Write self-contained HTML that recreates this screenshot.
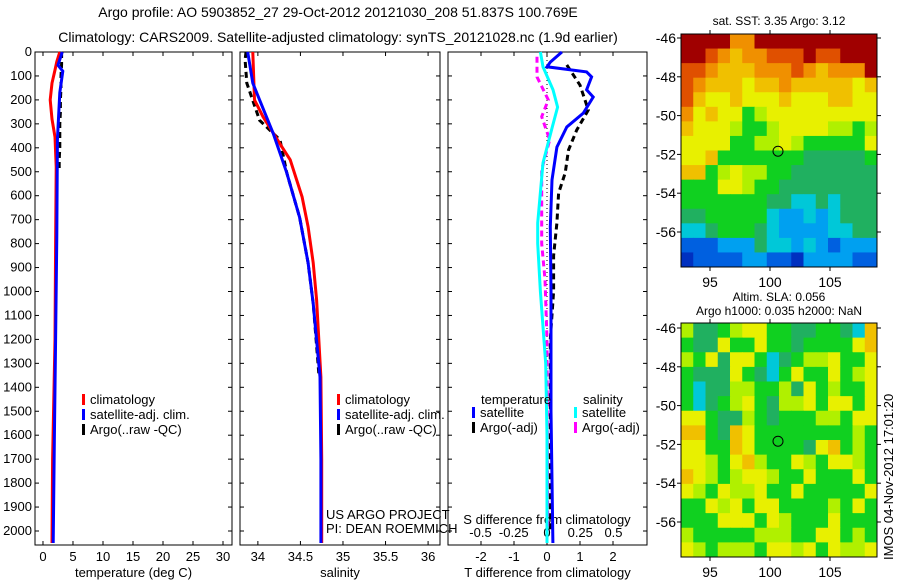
<!DOCTYPE html>
<html><head><meta charset="utf-8"><style>
body{margin:0;background:#fff}
svg{display:block;font-family:"Liberation Sans",sans-serif;font-size:13px}
</style></head><body>
<svg id="c" width="900" height="580" viewBox="0 0 900 580">
<text x="338" y="17" text-anchor="middle" font-size="14">Argo profile: AO 5903852_27 29-Oct-2012 20121030_208 51.837S 100.769E</text>
<text x="338" y="42" text-anchor="middle" font-size="14">Climatology: CARS2009. Satellite-adjusted climatology: synTS_20121028.nc (1.9d earlier)</text>
<g id="p1"></g>
<g id="p2"></g>
<g id="p3"></g>
<g id="m1"></g>
<g id="m2"></g>
<text x="0" y="0" transform="translate(893,560) rotate(-90)">IMOS 04-Nov-2012 17:01:20</text>
</svg>
<script>
// ---- data ----
const depthTicks=[0,100,200,300,400,500,600,700,800,900,1000,1100,1200,1300,1400,1500,1600,1700,1800,1900,2000];
const tTicks=[0,5,10,15,20,25,30];
const sTicks=[34,34.5,35,35.5,36];
const dTTicks=[-2,-1,0,1,2];
const dSTicks=[-0.5,-0.25,0,0.25,0.5];
const dSTickLabels=["-0.5","-0.25","0","0.25","0.5"];
const zClim=[0,40,75,130,200,280,355,480,800,1200,1450,1700,2050];
const tClim=[2.8,2.3,2.0,1.5,1.2,1.5,2.0,2.2,2.1,2.0,1.8,1.6,1.5];
const zSat=[0,55,80,170,367,770,1200,1600,2050];
const tSat=[3.2,2.5,3.3,2.8,2.4,2.3,2.1,1.9,1.7];
const zArgo=[0,50,100,150,200,250,300,350,400,450,500];
const tArgo=[3.1,3.1,3.0,3.0,2.9,2.9,2.8,2.8,2.8,2.7,2.7];
const zSC=[0,200,270,395,450,605,730,880,1035,1357,1700,2050];
const sClim=[33.94,33.96,34.06,34.28,34.38,34.52,34.59,34.65,34.69,34.74,34.75,34.75];
const zSS=[0,130,200,340,505,690,880,1050,1357,1700,2050];
const sSat=[33.88,33.94,34.02,34.18,34.34,34.49,34.59,34.65,34.73,34.74,34.74];
const zSA=[0,33,130,285,367,505,690,880,1050,1357];
const sArgo=[33.86,33.85,33.87,34.02,34.26,34.34,34.49,34.59,34.65,34.72];
const zDT=[0,42,62,83,104,158,188,255,313,397,534,730,1000,1500,2050];
const dTSat=[0.45,0.1,0.0,1.2,1.35,1.2,1.4,1.1,0.6,0.3,0.15,0.1,0.12,0.12,0.18];
const zDTA=[54,138,242,326,409,505,589,714,850,1000,1200,1600,2000];
const dTArgo=[0.6,1.0,1.25,0.9,0.65,0.55,0.35,0.3,0.2,0.2,0.1,0.1,0.1];
const zDS=[0,62,158,230,313,463,714,800,1000,1300,1600,2050];
const dSSat=[-0.05,-0.03,0.045,0.08,0.04,-0.03,-0.07,-0.07,-0.05,-0.01,0.0,0.0];
const zDSA=[20,104,200,270,367,490,714,800,950,1200,2000];
const dSArgo=[-0.075,-0.075,0.01,-0.04,0.02,-0.04,-0.04,-0.04,-0.015,0.0,0.005];
const sstGrid=["bbbb99bbbbbbbbbb","bba9899aaabaabbb","aa9888999a98999b","a988878898888878","a877877787778877","9787756777777777","8777655677776656","7777556676555557","7785555555444445","8856766554444444","5557765544444444","5555555443343444","4455555322323444","3345554322223344","1112224332321222","0111122110222211"];
const slaGrid=["6445677554455438","5447557554555578","6574775345667557","5444754357557567","5344665564756557","5345675466757757","7754465455566577","8854875555555565","7755875555478565","7765786557657765","8765677655755575","7657667557555557","5576757755556575","5557775765557555","6555556665577565","7656665776757667"];
const latTicks=[-46,-48,-50,-52,-54,-56];
const lonTicks=[95,100,105];
// ---- helpers ----
const NS="http://www.w3.org/2000/svg";
function mk(p,t,a){const e=document.createElementNS(NS,t);for(const k in a)e.setAttribute(k,a[k]);p.appendChild(e);return e;}
const top0=52,bot=545;
const Y=z=>top0+z*(531-top0)/2000;
function panel(g,x0,x1,xmin,xmax,xt,xl,xlabel,showDepth){
  const X=v=>x0+(v-xmin)*(x1-x0)/(xmax-xmin);
  const r=mk(g,'rect',{x:x0,y:top0,width:x1-x0,height:bot-top0,fill:'none',stroke:'#000'});
  
  
  depthTicks.forEach(d=>{mk(g,'line',{x1:x0,x2:x0+4,y1:Y(d),y2:Y(d),stroke:'#000'});mk(g,'line',{x1:x1,x2:x1-4,y1:Y(d),y2:Y(d),stroke:'#000'});
    if(showDepth){const t=mk(g,'text',{x:x0-3,y:Y(d)+4,'text-anchor':'end'});t.textContent=d;
      
      }});
  xt.forEach((v,i)=>{mk(g,'line',{x1:X(v),x2:X(v),y1:bot,y2:bot-4,stroke:'#000'});mk(g,'line',{x1:X(v),x2:X(v),y1:top0,y2:top0+4,stroke:'#000'});
    const t=mk(g,'text',{x:X(v),y:bot+16,'text-anchor':'middle'});t.textContent=xl?xl[i]:v;
    
    });
  const t=mk(g,'text',{x:(x0+x1)/2,y:bot+32,'text-anchor':'middle'});t.textContent=xlabel;
  
  
  return X;
}
function line(g,X,xs,zs,col,w,dash,name){
  const d=xs.map((v,i)=>(i?'L':'M')+X(v).toFixed(1)+','+Y(zs[i]).toFixed(1)).join('');
  const p=mk(g,'path',{d:d,fill:'none',stroke:col,'stroke-width':w});
  if(dash)p.setAttribute('stroke-dasharray',dash);
  
  
}
function legend(g,x,y,items){
  items.forEach((it,i)=>{mk(g,'rect',{x:x,y:y+i*15-10,width:3,height:11,fill:it[0]});
    const t=mk(g,'text',{x:x+8,y:y+i*15});t.textContent=it[1];
    
    });
}
const g1=document.getElementById('p1'),g2=document.getElementById('p2'),g3=document.getElementById('p3');
const X1=panel(g1,35,232,-1.33,31.5,tTicks,null,'temperature (deg C)',true);
line(g1,X1,tArgo,zArgo,'#000',3,'6,4','temp-argo-line');
line(g1,X1,tClim,zClim,'#f00',3,null,'temp-climatology-line');
line(g1,X1,tSat,zSat,'#00f',3,null,'temp-satellite-line');
legend(g1,82,404,[['#f00','climatology'],['#00f','satellite-adj. clim.'],['#000','Argo(..raw -QC)']]);
const X2=panel(g2,240,440,33.79,36.14,sTicks,null,'salinity',false);
line(g2,X2,sArgo,zSA,'#000',3,'6,4','sal-argo-line');
line(g2,X2,sClim,zSC,'#f00',3,null,'sal-climatology-line');
line(g2,X2,sSat,zSS,'#00f',3,null,'sal-satellite-line');
legend(g2,337,404,[['#f00','climatology'],['#00f','satellite-adj. clim.'],['#000','Argo(..raw -QC)']]);
let t=mk(g2,'text',{x:326,y:519});t.textContent='US ARGO PROJECT';


t=mk(g2,'text',{x:326,y:533});t.textContent='PI: DEAN ROEMMICH';


const X3=panel(g3,448,647,-3,3.03,dTTicks,null,'T difference from climatology',false);
const XS=v=>547+v*133;
mk(g3,'line',{x1:547,x2:547,y1:top0,y2:bot,stroke:'#000','stroke-dasharray':'1,3'});
dSTicks.forEach((v,i)=>{const tt=mk(g3,'text',{x:XS(v),y:537,'text-anchor':'middle'});tt.textContent=dSTickLabels[i];
  
  });
t=mk(g3,'text',{x:547,y:524,'text-anchor':'middle'});t.textContent='S difference from climatology';


line(g3,X3,dTArgo,zDTA,'#000',3,'6,4','tdiff-argo-line');
line(g3,XS,dSArgo,zDSA,'#f0f',3,'6,4','sdiff-argo-line');
line(g3,X3,dTSat,zDT,'#00f',3,null,'tdiff-satellite-line');
line(g3,XS,dSSat,zDS,'#0ff',3,null,'sdiff-satellite-line');
t=mk(g3,'text',{x:481,y:404});t.textContent='temperature';


t=mk(g3,'text',{x:583,y:404});t.textContent='salinity';


legend(g3,472,417,[['#00f','satellite'],['#000','Argo(-adj)']]);
legend(g3,574,417,[['#0ff','satellite'],['#f0f','Argo(-adj)']]);
// maps
const pal={'0':'#0030c0','1':'#0060e0','2':'#00a0f0','3':'#00c8d8','4':'#20b060','5':'#10d020','6':'#b0f000','7':'#e8f000','8':'#f0c000','9':'#f09000','a':'#e05000','b':'#a00000'};
function map(g,x0,y0,x1,y1,grid,ytop,ybot,title,ty){
  const rows=grid.length,cols=grid[0].length,cw=(x1-x0)/cols,ch=(y1-y0)/rows;
  grid.forEach((row,r)=>{[...row].forEach((c,k)=>{const e=mk(g,'rect',{x:(x0+k*cw).toFixed(2),y:(y0+r*ch).toFixed(2),width:(cw+0.5).toFixed(2),height:(ch+0.5).toFixed(2),fill:pal[c]});
    
    });});
  const fr=mk(g,'rect',{x:x0,y:y0,width:x1-x0,height:y1-y0,fill:'none',stroke:'#000'});
  
  
  const LY=v=>ytop+(v+46)*(ybot-ytop)/(-10);
  latTicks.forEach(v=>{mk(g,'line',{x1:x0-4,x2:x0,y1:LY(v),y2:LY(v),stroke:'#000'});mk(g,'line',{x1:x1,x2:x1+4,y1:LY(v),y2:LY(v),stroke:'#000'});
    const tt=mk(g,'text',{x:x0-5,y:LY(v)+5,'text-anchor':'end','font-size':14});tt.textContent=v;
    
    });
  const LX=v=>710+(v-95)*12;
  lonTicks.forEach(v=>{mk(g,'line',{x1:LX(v),x2:LX(v),y1:y1,y2:y1+4,stroke:'#000'});mk(g,'line',{x1:LX(v),x2:LX(v),y1:y0-4,y2:y0,stroke:'#000'});
    const tt=mk(g,'text',{x:LX(v),y:y1+20,'text-anchor':'middle','font-size':14});tt.textContent=v;
    
    });
  title.forEach((s,i)=>{const tt=mk(g,'text',{x:779,y:ty+i*14,'text-anchor':'middle','font-size':12});tt.textContent=s;
    
    });
  const c=mk(g,'circle',{cx:778,cy:LY(-51.837),r:5,fill:'none',stroke:'#000'});
  
  
}
map(document.getElementById('m1'),681,34,877,267,sstGrid,38,232,['sat. SST: 3.35 Argo: 3.12'],25);
map(document.getElementById('m2'),681,323,877,557,slaGrid,328,522,['Altim. SLA: 0.056','Argo h1000: 0.035 h2000: NaN'],301);
</script>
</body></html>
